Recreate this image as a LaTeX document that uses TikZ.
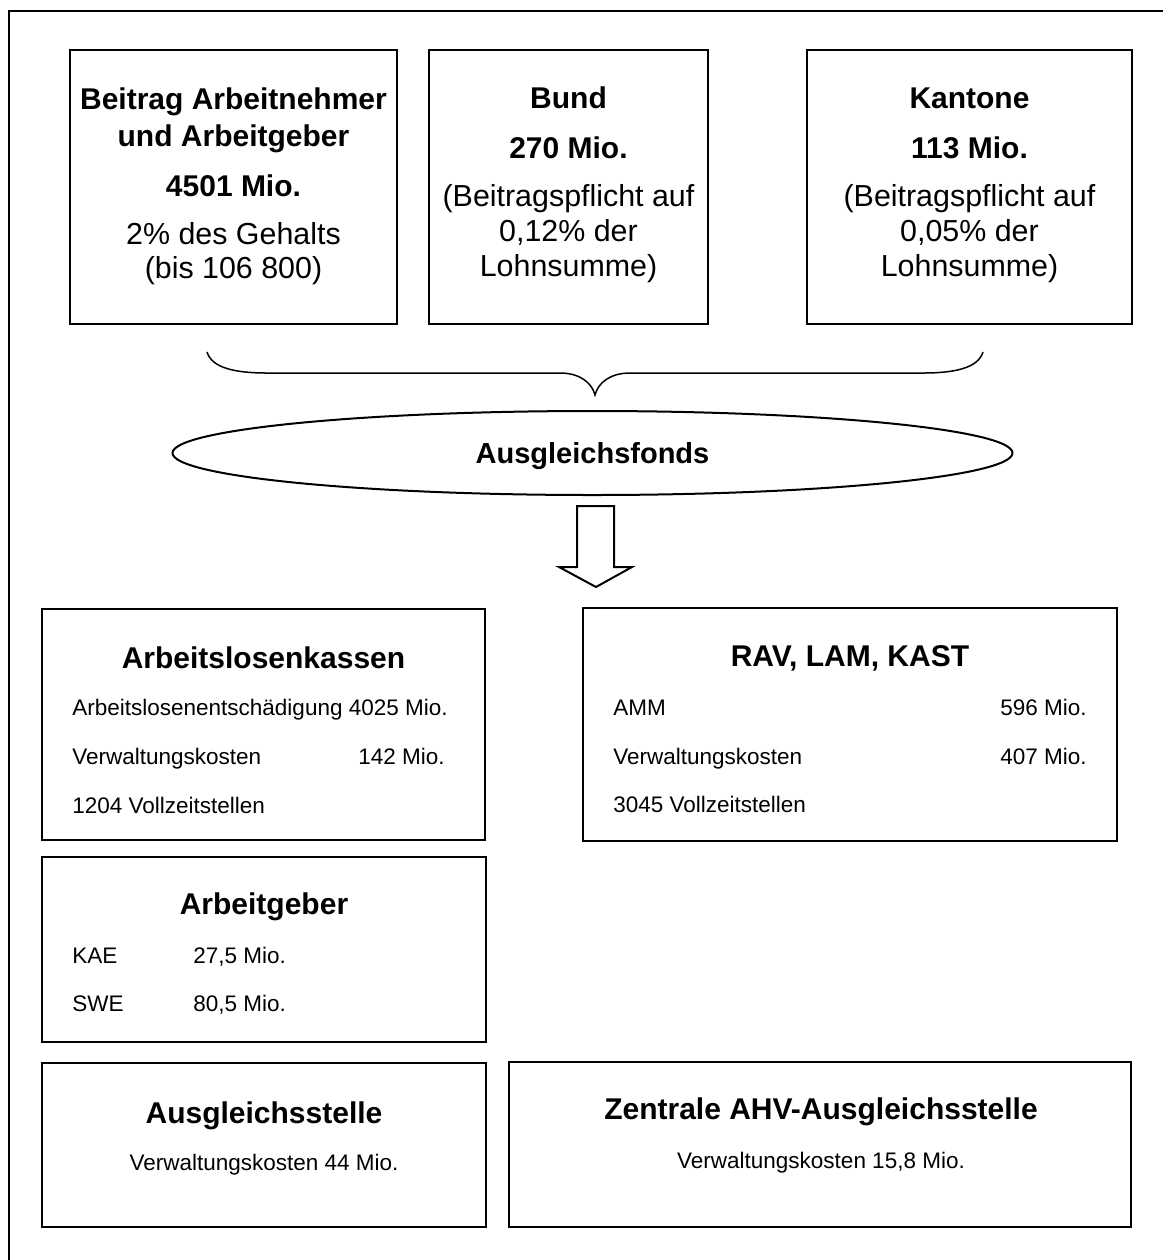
\documentclass[tikz,border=0pt]{standalone}
\usepackage{fontspec}
\setmainfont{Liberation Sans}
\usepackage{tikz}
\usetikzlibrary{shapes.geometric}

\begin{document}
\begin{tikzpicture}[x=0.5pt,y=-0.5pt,
  frame/.style={line width=1pt},
  title/.style={font=\bfseries\fontsize{15}{18}\selectfont, inner sep=0pt, anchor=mid, yshift=-3pt},
  big/.style={font=\fontsize{15.2}{18}\selectfont, inner sep=0pt, anchor=mid, yshift=-3pt},
  small/.style={font=\fontsize{11.25}{13.5}\selectfont, inner sep=0pt, anchor=mid west, yshift=-1.5pt},
  smallr/.style={small, anchor=mid east},
  smallc/.style={small, anchor=mid}]
  \clip (0,0) rectangle (1163,1260);
  \draw[frame] (9,11) rectangle (1180,1280);

  % sources
  \draw[frame] (70,50) rectangle (397,324);
  \draw[frame] (429,50) rectangle (708,324);
  \draw[frame] (807,50) rectangle (1132,324);

  \node[title] (beitragA) at (233.5,98) {Beitrag Arbeitnehmer};
  \node[title] (beitragB) at (233.5,135) {und Arbeitgeber};
  \node[title] (beitragC) at (233.5,185) {4501 Mio.};
  \node[big] (beitragD) at (233.5,233) {2\% des Gehalts};
  \node[big] (beitragE) at (233.5,267) {(bis 106 800)};

  \node[title] (bundA) at (568.5,97) {Bund};
  \node[title] (bundB) at (568.5,147) {270 Mio.};
  \node[big] (bundC) at (568.5,195) {(Beitragspflicht auf};
  \node[big] (bundD) at (568.5,230) {0,12\% der};
  \node[big] (bundE) at (568.5,265) {Lohnsumme)};

  \node[title] (kantA) at (969.5,97) {Kantone};
  \node[title] (kantB) at (969.5,147) {113 Mio.};
  \node[big] (kantC) at (969.5,195) {(Beitragspflicht auf};
  \node[big] (kantD) at (969.5,230) {0,05\% der};
  \node[big] (kantE) at (969.5,265) {Lohnsumme)};

  % brace and fund
  \draw[line width=0.75pt] (207,352) .. controls (212,368) and (235,373) .. (267,373)
    -- (560,373) .. controls (580,373) and (592,383) .. (595,395)
    .. controls (598,383) and (610,373) .. (630,373)
    -- (923,373) .. controls (955,373) and (978,368) .. (983,352);

  \node[frame, draw, ellipse, minimum width=420pt, minimum height=42pt, inner sep=0pt,
    text depth=0pt, font=\bfseries\fontsize{14.5}{17}\selectfont] (fonds) at (592.5,453) {Ausgleichsfonds};

  \draw[frame] (577,506) -- (614,506) -- (614,567) -- (632,567) -- (596,587)
    -- (559,567) -- (577,567) -- cycle;

  % payments
  \draw[frame] (42,609) rectangle (485,840);
  \node[title] (kassen) at (263.5,657) {Arbeitslosenkassen};
  \node[small] (kassenA) at (72,707) {Arbeitslosenentschädigung 4025 Mio.};
  \node[small] (kassenB) at (72,756) {Verwaltungskosten};
  \node[smallr] (kassenC) at (445,756) {142 Mio.};
  \node[small] (kassenD) at (72,805) {1204 Vollzeitstellen};

  \draw[frame] (583,608) rectangle (1117,841);
  \node[title] (rav) at (850,655) {RAV, LAM, KAST};
  \node[small] (ravA) at (613,707) {AMM};
  \node[smallr] (ravB) at (1087,707) {596 Mio.};
  \node[small] (ravC) at (613,756) {Verwaltungskosten};
  \node[smallr] (ravD) at (1087,756) {407 Mio.};
  \node[small] (ravE) at (613,804) {3045 Vollzeitstellen};

  \draw[frame] (42,857) rectangle (486,1042);
  \node[title] (arbg) at (264,903) {Arbeitgeber};
  \node[small] (arbgA) at (72,955) {KAE};
  \node[small] (arbgB) at (193,955) {27,5 Mio.};
  \node[small] (arbgC) at (72,1003) {SWE};
  \node[small] (arbgD) at (193,1003) {80,5 Mio.};

  \draw[frame] (42,1063) rectangle (486,1227);
  \node[title] (stelle) at (264,1112) {Ausgleichsstelle};
  \node[smallc] (stelleA) at (264,1162) {Verwaltungskosten 44 Mio.};

  \draw[frame] (509,1062) rectangle (1131,1227);
  \node[title] (ahv) at (821,1108) {Zentrale AHV-Ausgleichsstelle};
  \node[smallc] (ahvA) at (821,1160) {Verwaltungskosten 15,8 Mio.};
\end{tikzpicture}
\end{document}
